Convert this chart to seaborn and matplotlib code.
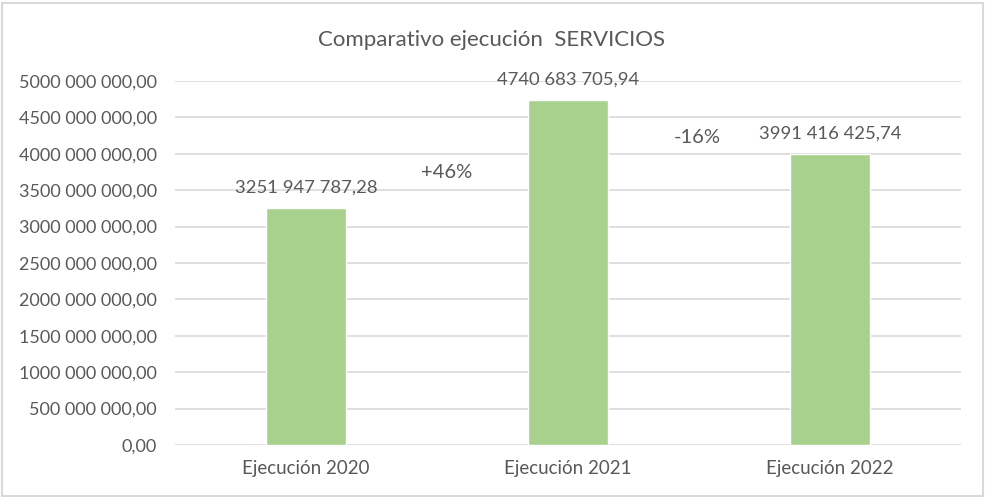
import matplotlib
matplotlib.use("Agg")
import matplotlib.pyplot as plt
import seaborn as sns
import pandas as pd
from matplotlib.ticker import FuncFormatter
from matplotlib.patches import Rectangle

categories = ["Ejecución 2020", "Ejecución 2021", "Ejecución 2022"]
values = [3251947787.28, 4740683705.94, 3991416425.74]
value_labels = ["3251 947 787,28", "4740 683 705,94", "3991 416 425,74"]
changes = ["+46%", "-16%"]
title = "Comparativo ejecución  SERVICIOS"

sns.set_theme(style="white")
plt.rcParams['font.family'] = ['Lato', 'DejaVu Sans']
txt = "#595959"

df = pd.DataFrame({"cat": categories, "val": values})
fig = plt.figure(figsize=(9.85, 4.97), dpi=100)
ax = fig.add_axes([175/985, 1-445/497, 786/985, (445-81)/497])
sns.barplot(data=df, x="cat", y="val", color="#a9d18e", width=0.305,
            saturation=1, ax=ax, zorder=3)
ax.set_ylim(0, 5e9)
ax.set_xlim(-0.5, 2.5)
ax.set_yticks([i*5e8 for i in range(11)])

def fmt(v, pos):
    ip = f"{int(round(v)):d}"
    if len(ip) > 3:
        groups = []
        while len(ip) > 3:
            groups.insert(0, ip[-3:])
            ip = ip[:-3]
        groups.insert(0, ip)
        # merge first group with leading digit as in the source format
        if len(groups) == 4 and len(groups[0]) == 1:
            groups = [groups[0] + groups[1]] + groups[2:]
        ip = " ".join(groups)
    return ip + ",00"
ax.yaxis.set_major_formatter(FuncFormatter(fmt))
ax.grid(axis="y", color="#d9d9d9", linewidth=1.2, zorder=0)
for s in ax.spines.values():
    s.set_visible(False)
ax.tick_params(axis="y", length=0, pad=13, labelsize=13, labelcolor=txt)
ax.tick_params(axis="x", length=0, pad=11, labelsize=13.5, labelcolor=txt)
ax.set_xlabel("")
ax.set_ylabel("")

for i, (v, lab) in enumerate(zip(values, value_labels)):
    ax.annotate(lab, (i, v), xytext=(0, 9), textcoords="offset points",
                ha="center", va="bottom", fontsize=13.3, color=txt)

ax.text(0.538, 3.75e9, changes[0], ha="center", va="center", fontsize=14.5, color=txt)
ax.text(1.492, 4.23e9, changes[1], ha="center", va="center", fontsize=14.5, color=txt)

fig.text(492/985, 1-40/497, title, ha="center", va="center", fontsize=16, color=txt)
fig.patches.append(Rectangle((1.5/985, 1.5/497), 981/985, 493/497, transform=fig.transFigure,
                             fill=False, edgecolor="#d9d9d9", linewidth=1.5))
fig.savefig("out.png", dpi=100)
